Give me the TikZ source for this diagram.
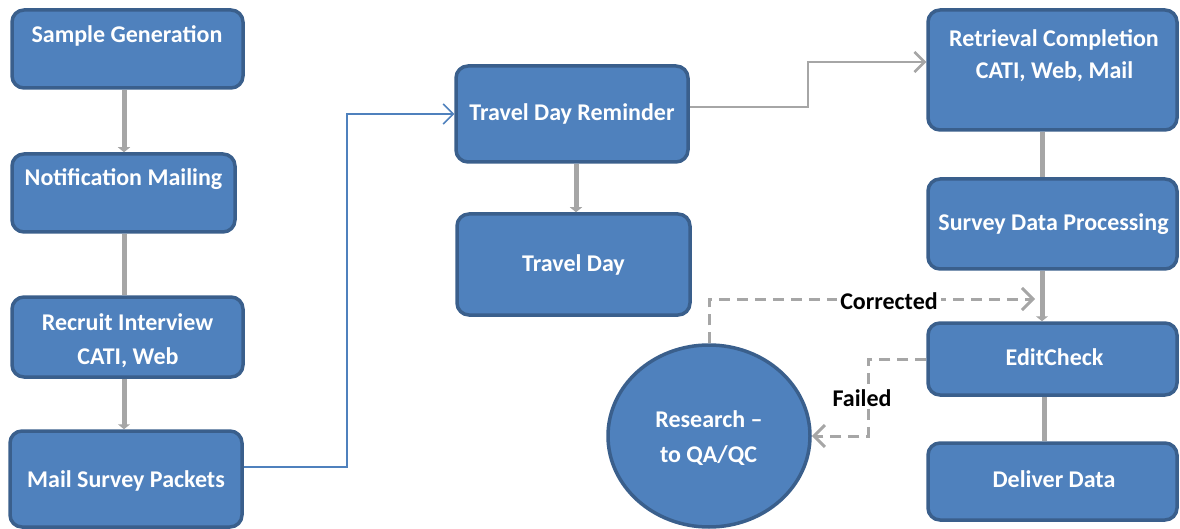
\documentclass[tikz,border=0pt]{standalone}
\usepackage{fontspec}
\setmainfont{Carlito}
\usetikzlibrary{arrows.meta,shapes.geometric}
\definecolor{boxfill}{HTML}{4F81BD}
\definecolor{boxline}{HTML}{3A5F8C}
\definecolor{conn}{HTML}{A6A6A6}
\definecolor{bconn}{HTML}{4F81BD}
\begin{document}
\begin{tikzpicture}[x=1pt,y=-1pt,
  box/.style={draw=boxline, fill=boxfill, line width=3.5pt, rounded corners=12pt, inner sep=0pt},
  oval/.style={ellipse, draw=boxline, fill=boxfill, line width=3.5pt, inner sep=0pt},
  lab/.style={text=white, font=\bfseries\fontsize{24}{30}\selectfont, anchor=base, inner sep=0pt},
  blab/.style={text=black, font=\bfseries\fontsize{24}{30}\selectfont, anchor=base, fill=white, inner sep=3pt},
  flow/.style={draw=conn, line width=5pt},
  flowtip/.style={flow, -{Triangle[length=5pt,width=12pt]}},
  elbow/.style={draw=conn, line width=2.5pt, -{Straight Barb[length=10pt,width=20pt]}},
  belbow/.style={draw=bconn, line width=1.5pt, -{Straight Barb[length=10pt,width=20pt]}},
  dashconn/.style={draw=conn, line width=3pt, dash pattern=on 11pt off 7pt, -{Straight Barb[length=11pt,width=22pt]}}
]
\useasboundingbox (0,0) rectangle (1180,529);

% boxes
\node[box, minimum width=231pt, minimum height=78pt] (sg) at (127.5,49) {};
\node[box, minimum width=223pt, minimum height=78pt] (nm) at (123.5,193) {};
\node[box, minimum width=231pt, minimum height=80pt] (ri) at (127.5,337) {};
\node[box, minimum width=232pt, minimum height=96pt] (ms) at (126,479) {};
\node[box, minimum width=232pt, minimum height=96pt] (tdr) at (572,114) {};
\node[box, minimum width=233pt, minimum height=101pt] (td) at (573.5,264.5) {};
\node[box, minimum width=249pt, minimum height=120pt] (rc) at (1052.5,70) {};
\node[box, minimum width=249pt, minimum height=90pt] (sdp) at (1052.5,224) {};
\node[box, minimum width=249pt, minimum height=72pt] (ec) at (1052.5,359) {};
\node[box, minimum width=249pt, minimum height=77pt] (dd) at (1052.5,481.5) {};
\node[oval, minimum width=202pt, minimum height=182pt] (rq) at (709,436) {};

% texts
\node[lab] (tsg) at (127,43) {Sample Generation};
\node[lab] (tnm) at (123.5,186) {Notification Mailing};
\node[lab] (tri1) at (127.5,330) {Recruit Interview};
\node[lab] (tri2) at (128,364) {CATI, Web};
\node[lab] (tms) at (126,487) {Mail Survey Packets};
\node[lab] (ttdr) at (572,121) {Travel Day Reminder};
\node[lab] (ttd) at (573.5,272) {Travel Day};
\node[lab] (trc1) at (1054,47) {Retrieval Completion};
\node[lab] (trc2) at (1054.5,79) {CATI, Web, Mail};
\node[lab] (tsdp) at (1053.5,231) {Survey Data Processing};
\node[lab] (tec) at (1054.5,365) {EditCheck};
\node[lab] (tdd) at (1054,487) {Deliver Data};
\node[lab] (trq1) at (709,427) {Research --};
\node[lab] (trq2) at (708.5,462) {to QA/QC};

% vertical flows
\draw[flowtip] ([xshift=-3.5pt]sg.south) -- ([xshift=-3.5pt]sg.south |- nm.north);
\draw[flow] ([xshift=0.5pt]nm.south) -- ([xshift=0.5pt]nm.south |- ri.north);
\draw[flowtip] ([xshift=-3.5pt]ri.south) -- ([xshift=-3.5pt]ri.south |- ms.north);
\draw[flowtip] ([xshift=4pt]tdr.south) -- ([xshift=4pt]tdr.south |- td.north);
\draw[flow] ([xshift=-10.5pt]rc.south) -- ([xshift=-10.5pt]rc.south |- sdp.north);
\draw[flowtip] ([xshift=-10.5pt]sdp.south) -- ([xshift=-10.5pt]sdp.south |- ec.north);
\draw[flow] ([xshift=-8.5pt]ec.south) -- ([xshift=-8.5pt]ec.south |- dd.north);

% elbow connectors
\coordinate (b1) at (347,467);
\draw[belbow] ([yshift=12pt]ms.east) -- (b1) |- (tdr.west);
\coordinate (g1) at (808,107);
\draw[elbow] ([yshift=7pt]tdr.east) -- (g1) |- ([yshift=8pt]rc.west);

% dashed loop
\coordinate (cend) at (1035,299);
\draw[dashconn] (rq.north) |- (cend);
\coordinate (f1) at (868,436);
\draw[dashconn] (ec.west) -| (f1) -- (rq.east);
\node[blab] (corr) at (889,309) {Corrected};
\node[blab] (fail) at (862,406) {Failed};
\end{tikzpicture}
\end{document}
